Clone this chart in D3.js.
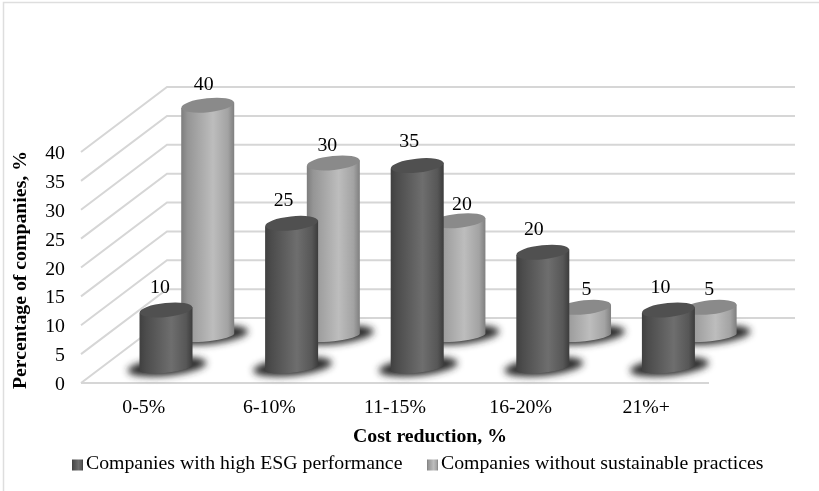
<!DOCTYPE html>
<html>
<head>
<meta charset="utf-8">
<script src="https://d3js.org/d3.v7.min.js"></script>
<style>
  html, body { margin: 0; padding: 0; background: #fff; }
  svg { display: block; font-family: "Liberation Serif", serif; fill: #000; filter: blur(0.35px); }
</style>
</head>
<body>
<svg id="chart" width="819" height="491"></svg>
<script>
var categories = ['0-5%', '6-10%', '11-15%', '16-20%', '21%+'];
var series_names = ['Companies with high ESG performance', 'Companies without sustainable practices'];
var high_esg = [10, 25, 35, 20, 10];
var no_sustain = [40, 30, 20, 5, 5];
var y_ticks = [0, 5, 10, 15, 20, 25, 30, 35, 40];

// the value labels were placed by hand in the original, so nudge them [dx, dy] from the cap centre
var high_label_nudge = [[-6, -17], [-8, -17], [-8, -19], [-9, -17], [-8, -17]];
var no_sustain_label_nudge = [[-4, -15], [-6, -12], [3, -11], [2, -12], [-1, -12]];

var svg = d3.select('#chart');

// floor corners of the fake 3d box
var front = {x0: 81, x1: 709, y: 383};
var depth_x = 86, depth_y = -65;
var r_x = 26.5, r_y = 7, r_y_base = 5, tilt = -6;
var font_size = 19.8;

var x_scale = d3.scaleBand().domain(categories).range([front.x0, front.x1]);
var y_scale = d3.scaleLinear().domain([0, 40]).range([front.y, front.y - 231]);
// how far back in the box each series stands
var depth_scale = d3.scaleOrdinal().domain(series_names).range([0.235, 0.72]);

var defs = svg.append('defs');

function cyl_gradient(id, stops) {
	var g = defs.append('linearGradient').attr('id', id);
	stops.forEach(function(s) {
		g.append('stop').attr('offset', s[0]).attr('stop-color', s[1]);
	});
}
cyl_gradient('dark_side', [[0, '#404040'], [0.12, '#4c4c4c'], [0.6, '#6e6e6e'], [0.88, '#575757'], [1, '#3c3c3c']]);
cyl_gradient('light_side', [[0, '#7d7d7d'], [0.12, '#959595'], [0.6, '#bdbdbd'], [0.88, '#a3a3a3'], [1, '#7f7f7f']]);

defs.append('filter').attr('id', 'soft').attr('x', '-30%').attr('y', '-120%').attr('width', '160%').attr('height', '340%')
	.append('feGaussianBlur').attr('stdDeviation', 3.5);

// outer frame
svg.append('path').attr('d', 'M3.5,491V2.5H819').attr('fill', 'none').attr('stroke', '#dedede').attr('stroke-width', 1.5);

// back wall and side wall gridlines
var grid = svg.append('g').attr('fill', 'none').attr('stroke', '#d6d6d6').attr('stroke-width', 2);
y_ticks.forEach(function(t) {
	var y = y_scale(t);
	grid.append('path').attr('d', d3.line()([[front.x0, y], [front.x0 + depth_x, y + depth_y], [front.x1 + depth_x, y + depth_y]]));
});
grid.append('path').attr('d', d3.line()([[front.x0, front.y], [front.x1, front.y]]));

// y tick labels
svg.append('g').selectAll('text').data(y_ticks).enter().append('text')
	.attr('x', 65).attr('y', function(d) { return y_scale(d) + 7; })
	.attr('text-anchor', 'end').attr('font-size', font_size)
	.text(function(d) { return d; });

// x tick labels
svg.append('g').selectAll('text').data(categories).enter().append('text')
	.attr('x', function(d) { return x_scale(d) + x_scale.bandwidth() / 2; }).attr('y', 413)
	.attr('text-anchor', 'middle').attr('font-size', font_size)
	.text(function(d) { return d; });

function draw_series(name, values, nudges, grad, top_fill) {
	var t = depth_scale(name);
	var items = categories.map(function(c, i) {
		var cx = x_scale(c) + x_scale.bandwidth() / 2 + t * depth_x + 2;
		var base = front.y + t * depth_y;
		var top = base - (y_scale(0) - y_scale(values[i]));
		return {cx: cx, base: base, top: top, v: values[i], nudge: nudges[i]};
	});
	var g = svg.append('g');

	// floor shadow
	g.selectAll('ellipse.shadow').data(items).enter().append('ellipse').attr('class', 'shadow')
		.attr('rx', r_x + 13).attr('ry', 9)
		.attr('transform', function(d) { return 'translate(' + (d.cx + 1) + ',' + (d.base - 1) + ') rotate(' + tilt + ')'; })
		.attr('fill', '#2a2a2a').attr('filter', 'url(#soft)');

	// side of the cylinder: two tilted half ellipses joined up
	var dy = r_x * Math.tan(tilt * Math.PI / 180);
	g.selectAll('path.side').data(items).enter().append('path').attr('class', 'side')
		.attr('d', function(d) {
			return 'M' + (d.cx - r_x) + ',' + (d.top - dy) + 'L' + (d.cx - r_x) + ',' + (d.base - dy) +
				'A' + r_x + ',' + r_y_base + ' ' + tilt + ' 0 0 ' + (d.cx + r_x) + ',' + (d.base + dy) +
				'L' + (d.cx + r_x) + ',' + (d.top + dy) + 'Z';
		})
		.attr('fill', 'url(#' + grad + ')');

	// top cap
	g.selectAll('ellipse.cap').data(items).enter().append('ellipse').attr('class', 'cap')
		.attr('rx', r_x).attr('ry', r_y)
		.attr('transform', function(d) { return 'translate(' + d.cx + ',' + d.top + ') rotate(' + tilt + ')'; })
		.attr('fill', top_fill);

	// value labels
	g.selectAll('text').data(items).enter().append('text')
		.attr('x', function(d) { return d.cx + d.nudge[0]; }).attr('y', function(d) { return d.top + d.nudge[1]; })
		.attr('text-anchor', 'middle').attr('font-size', font_size)
		.text(function(d) { return d.v; });
}

// back row first so the front row overlaps it
draw_series(series_names[1], no_sustain, no_sustain_label_nudge, 'light_side', '#8a8a8a');
draw_series(series_names[0], high_esg, high_label_nudge, 'dark_side', '#505050');

// axis titles
svg.append('text').attr('transform', 'translate(26,270) rotate(-90)')
	.attr('text-anchor', 'middle').attr('font-size', font_size).attr('font-weight', 'bold')
	.text('Percentage of companies, %');
svg.append('text').attr('x', 430).attr('y', 441.5)
	.attr('text-anchor', 'middle').attr('font-size', font_size).attr('font-weight', 'bold')
	.text('Cost reduction, %');

// legend
var legend_x = [72, 427];
var legend = svg.append('g').selectAll('g').data(series_names).enter().append('g')
	.attr('transform', function(d, i) { return 'translate(' + legend_x[i] + ',0)'; });
legend.append('rect').attr('y', 459.5).attr('width', 11).attr('height', 11)
	.attr('fill', function(d, i) { return i == 0 ? 'url(#dark_side)' : 'url(#light_side)'; });
legend.append('text').attr('x', 14).attr('y', 469).attr('font-size', font_size)
	.text(function(d) { return d; });
</script>
</body>
</html>
